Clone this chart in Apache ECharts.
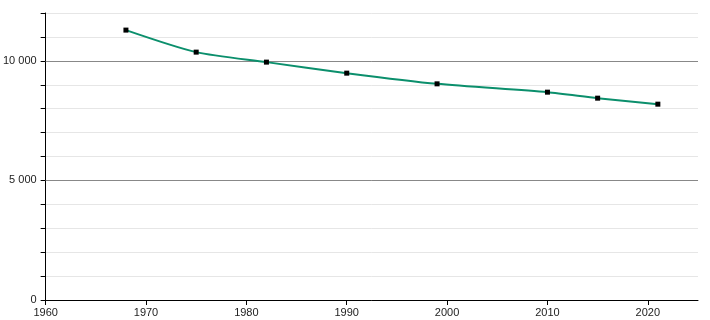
<!DOCTYPE html>
<html><head><meta charset="utf-8">
<script src="https://cdn.jsdelivr.net/npm/echarts@6/dist/echarts.min.js"></script>
<style>html,body{margin:0;padding:0;background:#fff}#c{width:710px;height:320px}</style>
</head><body><div id="c"></div>
<script>
const years = [1968, 1975, 1982, 1990, 1999, 2010, 2015, 2021];
const population = [11285, 10364, 9946, 9485, 9038, 8690, 8439, 8188];
const yMajorTicks = [0, 5000, 10000];

const chart = echarts.init(document.getElementById('c'), null, {renderer: 'canvas'});
const fmt = v => v === 0 ? '0' : String(v).replace(/\B(?=(\d{3})+(?!\d))/g, ' ');
chart.setOption({
  animation: false,
  grid: {left: 42, right: 12, top: 13, bottom: 20, containLabel: false},
  xAxis: {
    type: 'value', min: 1960, max: 2025, interval: 10,
    axisLine: {onZero: false, lineStyle: {color: '#000', width: 1}},
    axisTick: {show: true, length: 5, lineStyle: {color: '#000'}},
    axisLabel: {color: '#222', fontSize: 11, fontFamily: 'Liberation Sans, Arial', margin: 7, showMaxLabel: false,
      formatter: v => String(v)},
    splitLine: {show: false},
    z: 3
  },
  yAxis: [{
    type: 'value', min: 0, max: 12000, interval: 1000,
    axisLine: {show: true, lineStyle: {color: '#000', width: 1}},
    axisTick: {show: true, length: 5, lineStyle: {color: '#000'}},
    axisLabel: {color: '#222', fontSize: 11, fontFamily: 'Liberation Sans, Arial', margin: 9,
      formatter: v => yMajorTicks.includes(v) ? fmt(v) : ''},
    splitLine: {show: true, lineStyle: {color: '#e6e6e6', width: 1}},
    z: 1
  }, {
    type: 'value', min: 0, max: 12000, interval: 5000, position: 'left',
    axisLine: {show: false}, axisTick: {show: false}, axisLabel: {show: false},
    splitLine: {show: true, showMinLine: false, showMaxLine: false, lineStyle: {color: '#888', width: 1}},
    z: 2
  }],
  series: [{
    type: 'line', yAxisIndex: 0,
    data: years.map((y, i) => [y, population[i]]),
    smooth: 0.25,
    lineStyle: {color: '#0b8f6c', width: 2},
    symbol: 'rect', symbolSize: 5,
    itemStyle: {color: '#000'},
    z: 5
  }]
});
</script></body></html>
